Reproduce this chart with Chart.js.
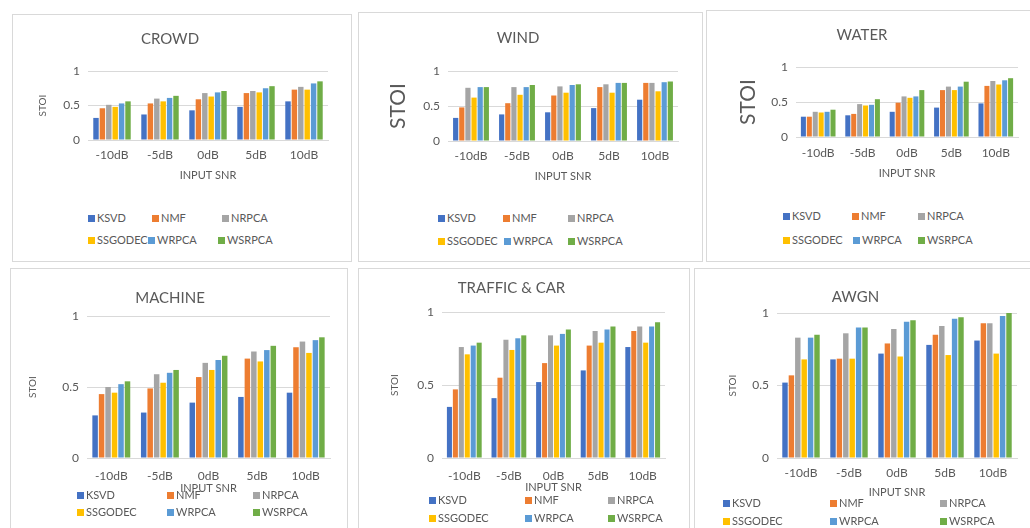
<!DOCTYPE html>
<html>
<head>
<meta charset="utf-8">
<script src="https://cdn.jsdelivr.net/npm/chart.js@4.4.1/dist/chart.umd.min.js"></script>
<style>
  body { margin: 0; width: 1030px; height: 528px; overflow: hidden; background: #fff; position: relative;
         font-family: Lato, "Open Sans", sans-serif; }
  .box { position: absolute; border: 1px solid #d9d9d9; box-sizing: border-box; }
  .cv { position: absolute; }
  .lg { position: absolute; font-size: 11px; color: #595959; white-space: nowrap; line-height: 12px; }
  .lg i { display: inline-block; width: 7px; height: 7px; margin-right: 2px; vertical-align: 0px; }
</style>
</head>
<body>
<script>
// STOI results, rows = methods, columns = input SNR
var snrLabels = ['-10dB', '-5dB', '0dB', '5dB', '10dB'];
var methods = ['KSVD', 'NMF', 'NRPCA', 'SSGODEC', 'WRPCA', 'WSRPCA'];
var methodColors = ['#4472C4', '#ED7D31', '#A5A5A5', '#FFC000', '#5B9BD5', '#70AD47'];
var yTicks = [0, 0.5, 1];

var crowdStoi = [
  [0.32, 0.37, 0.43, 0.48, 0.56],
  [0.46, 0.53, 0.59, 0.68, 0.73],
  [0.51, 0.60, 0.68, 0.71, 0.77],
  [0.48, 0.56, 0.63, 0.69, 0.73],
  [0.53, 0.61, 0.69, 0.75, 0.82],
  [0.56, 0.64, 0.71, 0.78, 0.85]
];
var windStoi = [
  [0.33, 0.38, 0.41, 0.47, 0.59],
  [0.48, 0.54, 0.65, 0.77, 0.83],
  [0.76, 0.77, 0.78, 0.81, 0.83],
  [0.62, 0.66, 0.69, 0.69, 0.71],
  [0.77, 0.77, 0.80, 0.83, 0.84],
  [0.77, 0.80, 0.81, 0.83, 0.85]
];
var waterStoi = [
  [0.29, 0.31, 0.36, 0.42, 0.48],
  [0.29, 0.33, 0.49, 0.67, 0.73],
  [0.36, 0.47, 0.58, 0.72, 0.80],
  [0.35, 0.45, 0.56, 0.67, 0.75],
  [0.36, 0.46, 0.58, 0.72, 0.81],
  [0.39, 0.54, 0.67, 0.79, 0.84]
];
var machineStoi = [
  [0.30, 0.32, 0.39, 0.43, 0.46],
  [0.45, 0.49, 0.57, 0.70, 0.78],
  [0.50, 0.59, 0.67, 0.75, 0.82],
  [0.46, 0.53, 0.62, 0.68, 0.74],
  [0.52, 0.60, 0.69, 0.76, 0.83],
  [0.54, 0.62, 0.72, 0.79, 0.85]
];
var trafficStoi = [
  [0.35, 0.41, 0.52, 0.60, 0.76],
  [0.47, 0.55, 0.65, 0.77, 0.87],
  [0.76, 0.81, 0.84, 0.87, 0.90],
  [0.71, 0.74, 0.77, 0.79, 0.79],
  [0.77, 0.82, 0.85, 0.88, 0.90],
  [0.79, 0.84, 0.88, 0.90, 0.93]
];
var awgnStoi = [
  [0.52, 0.68, 0.72, 0.78, 0.81],
  [0.57, 0.685, 0.79, 0.85, 0.93],
  [0.83, 0.86, 0.89, 0.91, 0.93],
  [0.68, 0.685, 0.70, 0.71, 0.72],
  [0.83, 0.90, 0.94, 0.96, 0.98],
  [0.85, 0.90, 0.95, 0.97, 1.00]
];

// panel layout (page pixels)
var panels = [
  { title: 'CROWD', data: crowdStoi, box: [12, 14, 340, 248], plot: [88, 328, 71, 140], titleY: 39, tickY: 156, axisY: 175,
    stoiX: 43, stoiSize: 10, rows: [218, 240], cols: [[88, 152, 222], [88, 148, 218]] },
  { title: 'WIND', data: windStoi, box: [358, 12, 345, 250], plot: [448, 678, 71, 141], titleY: 38, tickY: 157, axisY: 176,
    stoiX: 398, stoiSize: 21, rows: [218, 241], cols: [[438, 503, 568], [438, 504, 568]] },
  { title: 'WATER', data: waterStoi, box: [706, 10, 330, 252], plot: [796, 1018, 67, 137], titleY: 35, tickY: 154, axisY: 173,
    stoiX: 748, stoiSize: 21, rows: [216, 240], cols: [[783, 852, 918], [783, 853, 918]] },
  { title: 'MACHINE', data: machineStoi, box: [10, 268, 338, 270], plot: [87, 330, 316, 458], titleY: 298, tickY: 477, axisY: 488,
    stoiX: 33, stoiSize: 10, rows: [495, 512], cols: [[77, 167, 253], [77, 167, 253]] },
  { title: 'TRAFFIC & CAR', data: trafficStoi, box: [358, 268, 332, 270], plot: [442, 665, 312, 458], titleY: 288, tickY: 477, axisY: 487,
    stoiX: 395, stoiSize: 10, rows: [500, 518], cols: [[429, 525, 608], [429, 525, 608]] },
  { title: 'AWGN', data: awgnStoi, box: [694, 268, 340, 270], plot: [777, 1017, 313, 458], titleY: 297, tickY: 471, axisY: 492,
    stoiX: 733, stoiSize: 10, rows: [503, 521], cols: [[723, 830, 940], [723, 830, 940]] }
];

var textColor = '#595959';
var gridColor = '#d9d9d9';

panels.forEach(function (p) {
  var l = p.box[0], t = p.box[1];
  var box = document.createElement('div');
  box.className = 'box';
  box.style.left = l + 'px'; box.style.top = t + 'px';
  box.style.width = p.box[2] + 'px'; box.style.height = p.box[3] + 'px';
  document.body.appendChild(box);

  var axisLh = 13.2;
  var cvH = Math.round(p.axisY + axisLh / 2 - t);
  var wrap = document.createElement('div');
  wrap.className = 'cv';
  wrap.style.left = l + 'px'; wrap.style.top = t + 'px';
  wrap.style.width = p.box[2] + 'px'; wrap.style.height = cvH + 'px';
  var canvas = document.createElement('canvas');
  wrap.appendChild(canvas);
  document.body.appendChild(wrap);

  var titleLh = 18;
  var stoiLh = p.stoiSize * 1.2;

  new Chart(canvas.getContext('2d'), {
    type: 'bar',
    data: {
      labels: snrLabels,
      datasets: methods.map(function (m, i) {
        return { label: m, data: p.data[i], backgroundColor: methodColors[i],
                 categoryPercentage: 0.8, barPercentage: 0.85 };
      })
    },
    options: {
      responsive: true,
      maintainAspectRatio: false,
      animation: false,
      layout: { padding: { left: 0, top: 0, bottom: 0, right: l + p.box[2] - p.plot[1] } },
      plugins: {
        legend: { display: false },
        tooltip: { enabled: false },
        title: {
          display: true, text: p.title, color: textColor,
          font: { family: 'Lato', size: 15, weight: 'normal' },
          padding: { top: p.titleY - t - titleLh / 2, bottom: p.plot[2] - p.titleY - titleLh / 2 }
        }
      },
      scales: {
        x: {
          grid: { display: false },
          border: { color: gridColor },
          ticks: { color: textColor, font: { family: 'Lato', size: 12 }, padding: Math.max(0, p.tickY - p.plot[3] - 16),
                   maxRotation: 0, autoSkip: false },
          title: { display: true, text: 'INPUT SNR', color: textColor, font: { family: 'Lato', size: 11 },
                   padding: { top: 0, bottom: 0 } },
          afterFit: function (s) { s.height = cvH - (p.plot[3] - t); }
        },
        y: {
          min: 0, max: 1,
          afterBuildTicks: function (s) { s.ticks = yTicks.map(function (v) { return { value: v }; }); },
          grid: { color: gridColor, drawTicks: false },
          border: { display: false },
          ticks: { color: textColor, font: { family: 'Lato', size: 12 }, padding: 8,
                   callback: function (v) { return String(v); } },
          title: { display: true, text: 'STOI', color: textColor, font: { family: 'Lato', size: p.stoiSize },
                   padding: { top: p.stoiX - l - stoiLh / 2, bottom: 0 } },
          afterFit: function (s) { s.width = p.plot[0] - l; }
        }
      }
    }
  });

  // legend, three columns by two rows
  methods.forEach(function (m, i) {
    var row = Math.floor(i / 3), col = i % 3;
    var item = document.createElement('div');
    item.className = 'lg';
    item.style.left = p.cols[row][col] + 'px';
    item.style.top = (p.rows[row] - 6) + 'px';
    item.innerHTML = '<i style="background:' + methodColors[i] + '"></i>' + m;
    document.body.appendChild(item);
  });
});
</script>
</body>
</html>
